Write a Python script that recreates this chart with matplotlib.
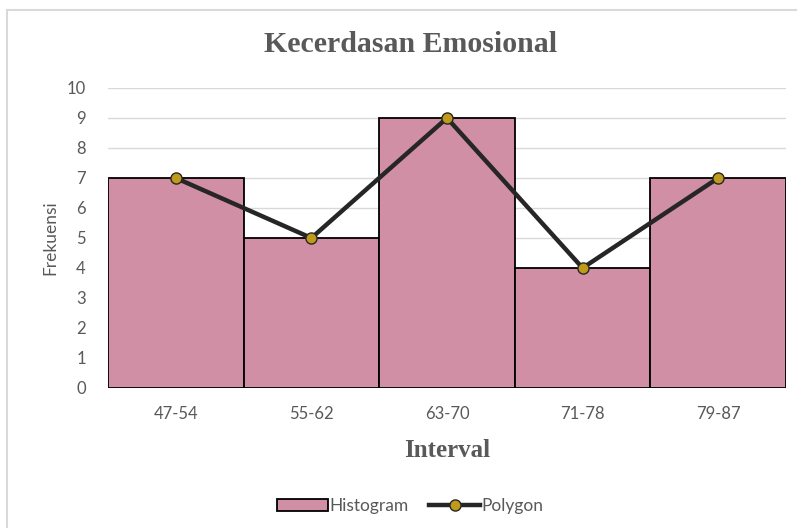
import numpy as np
import matplotlib.pyplot as plt
from matplotlib.patches import Rectangle
from matplotlib.lines import Line2D

intervals = ["47-54", "55-62", "63-70", "71-78", "79-87"]
frekuensi = [7, 5, 9, 4, 7]

bar_color = "#D08FA4"
dot_color = "#C09A1A"
text_gray = "#595959"

fig = plt.figure(figsize=(7.97, 5.28), dpi=100)
# chart area border (cropped on the right and bottom)
fig.patches.append(Rectangle((7/797, -0.1), 1.2, 1.1 - 10/528, transform=fig.transFigure,
                             fill=False, edgecolor="#D9D9D9", linewidth=1.5))

ax = fig.add_axes([108/797, 1 - 388/528, (786 - 108)/797, 300/528])
x = np.arange(len(intervals))
ax.bar(x, frekuensi, width=1.0, color=bar_color, edgecolor="black", linewidth=1.3,
       zorder=2, label="Histogram")
ax.plot(x, frekuensi, color="#262626", linewidth=3.2, marker="o", markersize=8,
        markerfacecolor=dot_color, markeredgecolor="#262626", markeredgewidth=1.0,
        zorder=3, label="Polygon")

ax.set_xlim(-0.5, len(intervals) - 0.5)
ax.set_ylim(0, 10)
ax.set_yticks(range(0, 11))
ax.set_xticks(x)
ax.set_xticklabels(intervals)
ax.grid(axis="y", color="#D9D9D9", linewidth=1.0, zorder=0)
for s in ax.spines.values():
    s.set_visible(False)
ax.tick_params(length=0, labelsize=12, labelcolor=text_gray, pad=13)
for lab in ax.get_xticklabels() + ax.get_yticklabels():
    lab.set_family("Lato")
ax.tick_params(axis="y", pad=16)

ax.set_ylabel("Frekuensi", fontsize=12.5, color=text_gray, family="Lato", labelpad=6)
ax.set_xlabel("Interval", fontsize=18, color=text_gray, family="Liberation Serif",
              fontweight="bold", labelpad=12)

fig.text(0.515, 1 - 45/528, "Kecerdasan Emosional", ha="center", va="center",
         fontsize=21.5, fontweight="bold", color=text_gray, family="Liberation Serif")

handles = [Rectangle((0, 0), 1, 1, facecolor=bar_color, edgecolor="black", linewidth=1.3),
           Line2D([], [], color="#262626", linewidth=3.2, marker="o", markersize=8,
                  markerfacecolor=dot_color, markeredgecolor="#262626")]
leg = fig.legend(handles, ["Histogram", "Polygon"], loc="center", bbox_to_anchor=(0.515, 1 - 506/528),
                 ncol=2, frameon=False, handlelength=2.9, handletextpad=0.1, columnspacing=1.2,
                 prop={"family": "Lato", "size": 12.5})
for t in leg.get_texts():
    t.set_color(text_gray)

fig.savefig("out.png", dpi=100)
